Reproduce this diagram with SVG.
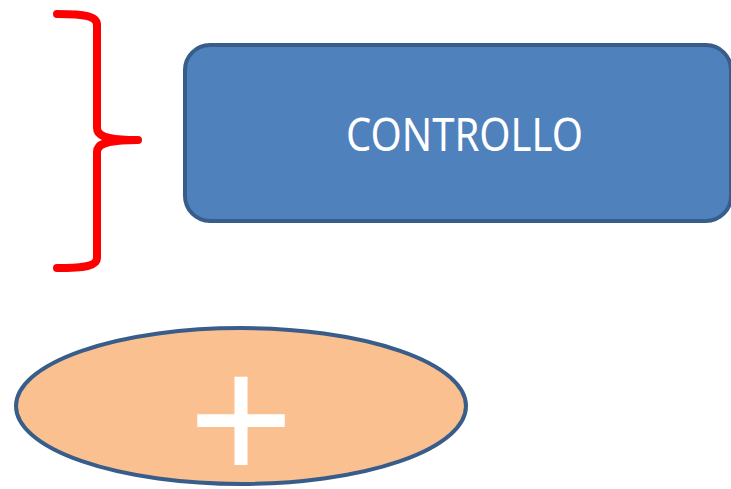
<svg xmlns="http://www.w3.org/2000/svg" width="731" height="489" viewBox="0 0 731 489">
<style>
.node-stroke{stroke:#385D8A;stroke-width:4}
.label{font-family:"Noto Sans","Open Sans","Liberation Sans",sans-serif;fill:#FFFFFF}
</style>
<rect width="731" height="489" fill="#FFFFFF"/>
<g id="brace">
<path d="M57,14 C85,14 97,16 97,25 L97,128 C97,135 103,140 138,140 C103,140 97,145 97,152 L97,258 C97,266 85,268 57,268" fill="none" stroke="#FF0000" stroke-width="8" stroke-linecap="round" stroke-linejoin="round"/>
</g>
<g id="controllo">
<rect x="185" y="45" width="546" height="176" rx="25" ry="25" fill="#4F81BD" class="node-stroke"/>
<text class="label" x="346" y="151" font-size="45" textLength="237" lengthAdjust="spacingAndGlyphs">CONTROLLO</text>
</g>
<g id="plus">
<ellipse cx="241" cy="406" rx="225" ry="78" fill="#FAC090" class="node-stroke"/>
<text x="241" y="481" font-family="Liberation Sans, Arial, sans-serif" font-size="180" fill="#FFFFFF" text-anchor="middle">+</text>
</g>
</svg>
